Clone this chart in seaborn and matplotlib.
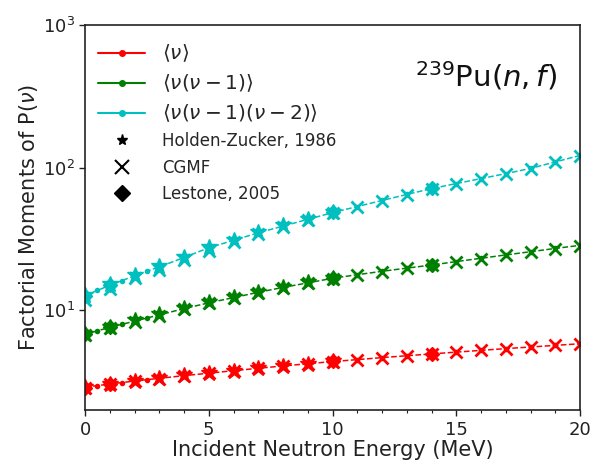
import numpy as np
import pandas as pd
import matplotlib
matplotlib.use("Agg")
import matplotlib.pyplot as plt
from matplotlib.lines import Line2D
import seaborn as sns

# Model energies (MeV): half-MeV steps at low energy, then 1 MeV steps
model_E = [0, 0.5, 1, 1.5, 2, 2.5, 3, 4, 5, 6, 7, 8, 9, 10, 11, 12, 13, 14, 15, 16, 17, 18, 19, 20]
model_nu1 = [2.90, 2.97, 3.05, 3.12, 3.20, 3.27, 3.34, 3.49, 3.63, 3.78, 3.93, 4.08, 4.23, 4.38,
             4.52, 4.67, 4.81, 4.96, 5.10, 5.25, 5.40, 5.54, 5.69, 5.84]
model_nu2 = [6.8, 7.2, 7.6, 8.0, 8.4, 8.85, 9.3, 10.3, 11.3, 12.3, 13.4, 14.5, 15.6, 16.8,
             17.8, 18.8, 19.8, 20.8, 22.0, 23.2, 24.5, 25.8, 27.2, 28.6]
model_nu3 = [12.7, 13.8, 15.0, 16.2, 17.5, 18.8, 20.2, 23.5, 27.5, 31.0, 35.0, 39.0, 43.5, 48.5,
             53.5, 59.0, 65.0, 71.5, 77.5, 84.0, 91.0, 99.0, 110.0, 122.0]

# CGMF calculations at integer energies
cgmf_E = list(range(0, 21))
cgmf_nu1 = [2.88, 3.04, 3.19, 3.33, 3.48, 3.62, 3.77, 3.92, 4.07, 4.22, 4.37,
            4.51, 4.66, 4.80, 4.95, 5.09, 5.24, 5.39, 5.53, 5.68, 5.83]
cgmf_nu2 = [6.7, 7.5, 8.3, 9.2, 10.2, 11.2, 12.2, 13.3, 14.4, 15.5, 16.7,
            17.7, 18.7, 19.7, 20.7, 21.9, 23.1, 24.4, 25.7, 27.1, 28.5]
cgmf_nu3 = [11.9, 14.2, 16.8, 19.3, 22.4, 26.2, 30.2, 34.2, 38.4, 43.0, 48.0,
            53.0, 58.5, 64.5, 71.0, 77.0, 83.5, 90.5, 98.5, 109.0, 121.0]

# Holden-Zucker (1986) evaluation
hz_E = [0, 1, 2, 3, 4, 5, 6, 7, 8, 9, 10]
hz_nu1 = [2.89, 3.06, 3.21, 3.35, 3.50, 3.64, 3.79, 3.94, 4.09, 4.24, 4.39]
hz_nu2 = [6.8, 7.7, 8.5, 9.4, 10.4, 11.4, 12.4, 13.5, 14.6, 15.7, 16.9]
hz_nu3 = [12.8, 15.2, 17.7, 20.4, 23.8, 27.8, 31.4, 35.4, 39.5, 44.0, 49.0]

# Lestone (2005)
les_E = [0, 1, 10, 14]
les_nu1 = [2.88, 3.05, 4.40, 4.98]
les_nu2 = [6.8, 7.6, 16.9, 20.9]
les_nu3 = [12.6, 15.1, 48.8, 71.8]

colors = ["#ff0000", "#008000", "#00bfbf"]
labels = [r"$\langle\nu\rangle$",
          r"$\langle\nu(\nu-1)\rangle$",
          r"$\langle\nu(\nu-1)(\nu-2)\rangle$"]

sns.set_style("ticks")
plt.rcParams["font.family"] = ["DejaVu Sans"]

fig = plt.figure(figsize=(5.92, 4.65), dpi=100)
ax = fig.add_axes([0.1436, 0.118, 0.8364, 0.828])

model = [model_nu1, model_nu2, model_nu3]
cgmf = [cgmf_nu1, cgmf_nu2, cgmf_nu3]
hz = [hz_nu1, hz_nu2, hz_nu3]
les = [les_nu1, les_nu2, les_nu3]

for i in range(3):
    c = colors[i]
    sns.lineplot(x=model_E, y=model[i], ax=ax, color=c, linestyle="--", lw=1.1,
                 marker="o", markersize=4, markeredgewidth=0)
    ax.plot(hz_E, hz[i], linestyle="none", marker="*", color=c, markersize=12)
    ax.plot(cgmf_E, cgmf[i], linestyle="none", marker="x", color=c, markersize=9,
            markeredgewidth=2)
    ax.plot(les_E, les[i], linestyle="none", marker="D", color=c, markersize=7)

ax.set_yscale("log")
ax.set_xlim(0, 20)
ax.set_ylim(2, 1000)
ax.set_xticks([0, 5, 10, 15, 20])
ax.set_xticks(range(0, 21), minor=True)
ax.yaxis.set_minor_locator(matplotlib.ticker.NullLocator())
ax.tick_params(axis="both", which="major", labelsize=13, length=4, width=1, colors="#222222")
ax.tick_params(axis="x", which="minor", length=2.5, width=0.8, colors="#222222")
for s in ax.spines.values():
    s.set_color("#222222")
    s.set_linewidth(1.2)

ax.set_xlabel("Incident Neutron Energy (MeV)", fontsize=15, color="#222222", labelpad=1)
ax.set_ylabel("Factorial Moments of P($\\nu$)", fontsize=15, color="#222222", labelpad=2)

ax.text(0.667, 0.868, r"$^{239}$Pu$(n,f)$", transform=ax.transAxes, fontsize=21,
        ha="left", va="center", color="#111111")

handles = [Line2D([0], [0], color=colors[i], lw=1.5, marker="o", markersize=4) for i in range(3)]
handles += [
    Line2D([0], [0], color="k", linestyle="none", marker="*", markersize=8),
    Line2D([0], [0], color="k", linestyle="none", marker="x", markersize=10, markeredgewidth=1.5),
    Line2D([0], [0], color="k", linestyle="none", marker="D", markersize=8),
]
leg_labels = labels + ["Holden-Zucker, 1986", "CGMF", "Lestone, 2005"]
leg = ax.legend(handles, leg_labels, loc="upper left", frameon=False, fontsize=12,
                handlelength=2.8, handletextpad=1.0, labelspacing=0.5,
                borderaxespad=0.4, bbox_to_anchor=(0.0, 0.99))
for t in leg.get_texts()[:3]:
    t.set_fontsize(14.5)

fig.savefig("out.png", dpi=100)
